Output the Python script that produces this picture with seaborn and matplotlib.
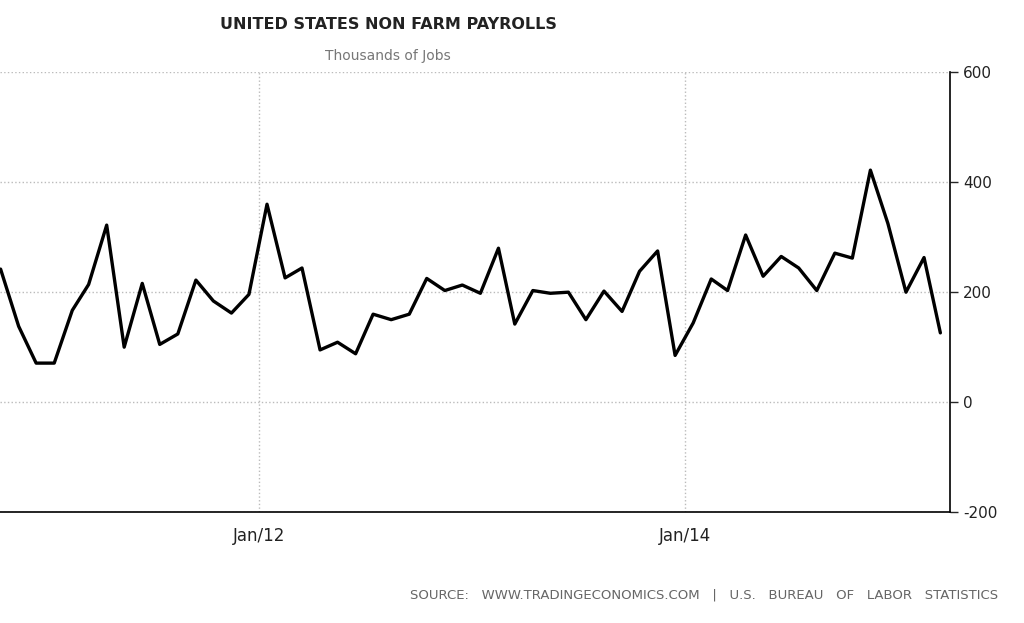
import pandas as pd
import matplotlib.pyplot as plt
import seaborn as sns

# monthly non farm payrolls, Oct 2010 - Mar 2015 (thousands), dated mid-month
months = pd.date_range('2010-10-01', periods=54, freq='MS') + pd.Timedelta(days=14)
payrolls = [242, 138, 71, 71, 167, 214, 322, 100, 216, 105, 124, 222,
            184, 162, 196, 360, 226, 244, 95, 109, 88, 160, 150, 160,
            225, 203, 213, 198, 280, 142, 203, 198, 200, 150, 202, 165,
            238, 275, 85, 144, 224, 203, 304, 229, 265, 244, 203, 271,
            262, 422, 325, 200, 263, 126]
tick_dates = pd.to_datetime(['2012-01-01', '2014-01-01'])
tick_labels = ['Jan/12', 'Jan/14']
y_ticks = [-200, 0, 200, 400, 600]

df = pd.DataFrame({'date': months, 'value': payrolls})

sns.set_style("white")
plt.rcParams['font.family'] = ['DejaVu Sans']

fig = plt.figure(figsize=(10.24, 6.23), dpi=100)
ax = fig.add_axes([0.0, 0.178, 0.928, 0.706])
sns.lineplot(data=df, x='date', y='value', ax=ax, color='black', linewidth=2.4)

ax.set_xlim(pd.Timestamp('2010-10-14'), pd.Timestamp('2015-04-01'))
ax.set_ylim(-200, 600)
ax.set_xticks(tick_dates)
ax.set_xticklabels(tick_labels, fontsize=12, color='#222222')
ax.set_yticks(y_ticks)
ax.set_yticklabels([str(v) for v in y_ticks], fontsize=11, color='#222222')
ax.yaxis.tick_right()
ax.tick_params(axis='y', direction='out', length=6, width=1, pad=3)
ax.tick_params(axis='x', direction='out', length=5, width=1, pad=6)
ax.grid(True, linestyle=':', color='#bbbbbb', linewidth=1)
ax.set_xlabel('')
ax.set_ylabel('')
for side in ['top', 'left']:
    ax.spines[side].set_visible(False)
for side in ['bottom', 'right']:
    ax.spines[side].set_color('black')
    ax.spines[side].set_linewidth(1.2)

fig.text(0.379, 0.96, 'UNITED STATES NON FARM PAYROLLS', ha='center', va='center',
         fontsize=11.5, fontweight='semibold', color='#222222')
fig.text(0.379, 0.91, 'Thousands of Jobs', ha='center', va='center',
         fontsize=10, color='#777777')
fig.text(0.975, 0.045, 'SOURCE:   WWW.TRADINGECONOMICS.COM   |   U.S.   BUREAU   OF   LABOR   STATISTICS',
         ha='right', va='center', fontsize=9.5, color='#666666')

fig.savefig('out.png', dpi=100)
